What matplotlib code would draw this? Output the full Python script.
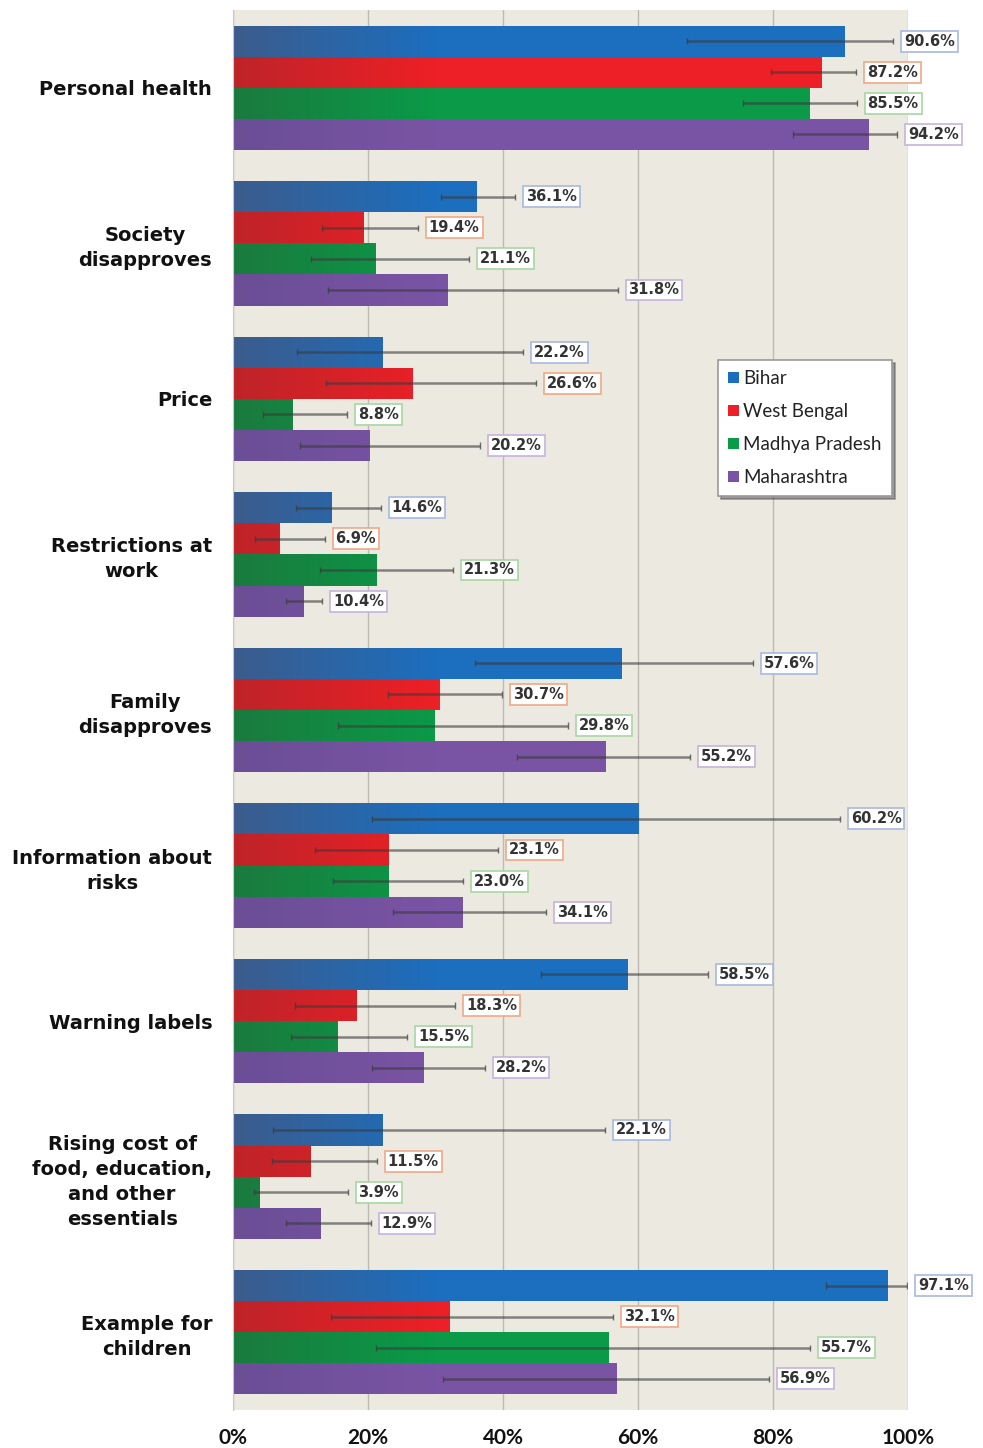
import numpy as np
import matplotlib
matplotlib.use("Agg")
import matplotlib.pyplot as plt
from matplotlib.colors import to_rgb
from matplotlib.patches import Patch

# categories, top to bottom
categories = [
    "Personal health",
    "Society\ndisapproves",
    "Price",
    "Restrictions at\nwork",
    "Family\ndisapproves",
    "Information about\nrisks",
    "Warning labels",
    "Rising cost of\nfood, education,\nand other\nessentials",
    "Example for\nchildren",
]
states = ["Bihar", "West Bengal", "Madhya Pradesh", "Maharashtra"]

# values (%) per state, in category order
bihar = [90.6, 36.1, 22.2, 14.6, 57.6, 60.2, 58.5, 22.1, 97.1]
west_bengal = [87.2, 19.4, 26.6, 6.9, 30.7, 23.1, 18.3, 11.5, 32.1]
madhya_pradesh = [85.5, 21.1, 8.8, 21.3, 29.8, 23.0, 15.5, 3.9, 55.7]
maharashtra = [94.2, 31.8, 20.2, 10.4, 55.2, 34.1, 28.2, 12.9, 56.9]

# error bar ranges as drawn (low, high)
bihar_lo = [67.3, 30.8, 9.5, 9.3, 35.9, 20.6, 45.6, 5.9, 87.9]
bihar_hi = [97.8, 41.8, 43.0, 21.9, 77.0, 89.9, 70.4, 55.1, 99.9]
wb_lo = [79.7, 13.2, 13.8, 3.3, 23.0, 12.1, 9.2, 5.8, 14.5]
wb_hi = [92.3, 27.4, 44.9, 13.6, 39.9, 39.3, 32.9, 21.3, 56.3]
mp_lo = [75.6, 11.6, 4.4, 12.9, 15.6, 14.8, 8.6, 3.1, 21.2]
mp_hi = [92.4, 35.0, 16.9, 32.6, 49.6, 34.1, 25.8, 17.0, 85.5]
mh_lo = [83.0, 14.1, 9.9, 7.9, 42.1, 23.7, 20.6, 7.9, 31.1]
mh_hi = [98.4, 57.0, 36.6, 13.2, 67.7, 46.4, 37.3, 20.4, 79.4]

series = [bihar, west_bengal, madhya_pradesh, maharashtra]
lows = [bihar_lo, wb_lo, mp_lo, mh_lo]
highs = [bihar_hi, wb_hi, mp_hi, mh_hi]

colors = ["#1C6EBE", "#EC2026", "#0A9A48", "#7A54A4"]
dark_colors = ["#3C5C8C", "#BE2429", "#1B7A3E", "#6A4E96"]
box_edges = ["#A8B8E2", "#F2A888", "#A8D6A2", "#C4B4DE"]

fig = plt.figure(figsize=(9.83, 14.48), dpi=100)
ax = fig.add_axes([233 / 983, 1 - 1410 / 1448, 675 / 983, 1400 / 1448])
ax.set_facecolor("#ECE9E0")

n = len(categories)
y = np.arange(n)
h = 0.2
offsets = [-0.3, -0.1, 0.1, 0.3]

grad_x = np.linspace(0, 1, 200)
for k in range(4):
    c0 = np.array(to_rgb(dark_colors[k]))
    c1 = np.array(to_rgb(colors[k]))
    grad = c0[None, :] * (1 - grad_x[:, None]) + c1[None, :] * grad_x[:, None]
    grad = grad[None, :, :]
    bars = ax.barh(y + offsets[k], series[k], height=h, color=colors[k],
                   edgecolor="none", zorder=2)
    for b in bars:
        by = b.get_y()
        im = ax.imshow(grad, extent=[0, 30, by, by + h], aspect="auto",
                       interpolation="bilinear", zorder=2.5)
        im.set_clip_path(b)
    # error bars
    yy = y + offsets[k]
    ax.hlines(yy, lows[k], highs[k], color="#3a3a3a", alpha=0.6, lw=1.8, zorder=3)
    ax.vlines(lows[k], yy - 0.02, yy + 0.02, color="#3a3a3a", alpha=0.7, lw=1, zorder=3)
    ax.vlines(highs[k], yy - 0.02, yy + 0.02, color="#3a3a3a", alpha=0.7, lw=1, zorder=3)
    for i in range(n):
        ax.text(highs[k][i] + 1.6, yy[i], f"{series[k][i]:.1f}%", ha="left",
                va="center", fontsize=10.5, color="#333333", fontweight="bold",
                family="DejaVu Sans", zorder=5, clip_on=False,
                bbox=dict(boxstyle="square,pad=0.2", fc="white",
                          ec=box_edges[k], lw=1.2))

ax.set_xlim(0, 100)
ax.set_ylim(n - 0.5, -0.5)
ax.set_xticks([0, 20, 40, 60, 80, 100])
ax.set_xticklabels(["0%", "20%", "40%", "60%", "80%", "100%"])
ax.set_yticks(y)
ax.set_yticklabels(categories)
for t in ax.get_yticklabels():
    t.set_multialignment("center")
    t.set_fontsize(14)
    t.set_fontweight("bold")
    t.set_family("DejaVu Sans")
    t.set_linespacing(1.4)
for t in ax.get_xticklabels():
    t.set_fontsize(15)
    t.set_fontweight("bold")
    t.set_family("Lato")
ax.tick_params(axis="both", length=0, colors="#111111")
ax.tick_params(axis="x", pad=13)
ax.tick_params(axis="y", pad=15)
ax.xaxis.grid(True, color="#BDBAB2", lw=1)
ax.set_axisbelow(True)
for s in ["top", "right", "bottom"]:
    ax.spines[s].set_visible(False)
ax.spines["left"].set_color("#C8C8C8")

handles = [Patch(facecolor=colors[k], edgecolor="none", label=states[k]) for k in range(4)]
leg = ax.legend(handles=handles, loc="upper left", bbox_to_anchor=(0.7185, 0.75),
                frameon=True, fancybox=False, shadow=True, handlelength=0.55,
                handleheight=0.55, handletextpad=0.25, labelspacing=0.85,
                borderpad=0.55, borderaxespad=0,
                prop={"family": "Lato", "size": 13.5})
leg.get_frame().set_edgecolor("#999999")
leg.get_frame().set_linewidth(1.2)
for t in leg.get_texts():
    t.set_color("#222222")

fig.savefig("out.png", dpi=100, facecolor="white")
